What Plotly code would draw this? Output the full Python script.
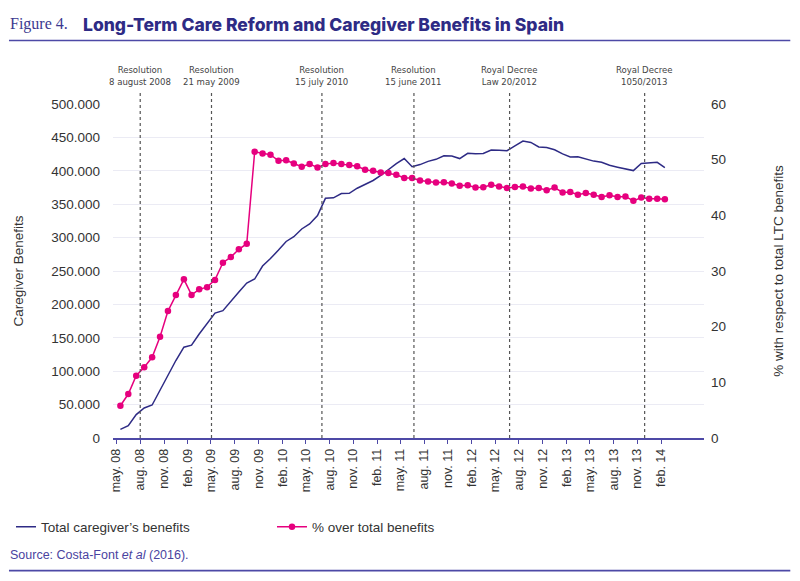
import pandas as pd
import plotly.graph_objects as go

# monthly series, may 2008 - feb 2014
months = pd.date_range("2008-05-01", periods=70, freq="MS")

caregiver_benefits = [
    13000, 18400, 35000, 44900, 49400, 71900, 94300, 116000, 136000, 139000,
    155700, 172000, 187000, 190600, 205000, 218600, 232000, 238000, 257500, 268600,
    281400, 294200, 301300, 312900, 320400, 333100, 358800, 359600, 365900, 366300,
    373900, 379600, 385500, 393000, 402100, 410800, 418400, 406100, 409300, 414100,
    417200, 422600, 422000, 418300, 426200, 425500, 426000, 431100, 430700, 430100,
    437400, 444600, 442500, 435600, 434900, 431400, 425400, 420700, 421100, 417400,
    414500, 412700, 408200, 405400, 402800, 400300, 410900, 411700, 412700, 404900,
]

pct_over_total = [
    5.8, 7.9, 11.2, 12.7, 14.5, 18.2, 22.8, 25.7, 28.5, 25.7,
    26.7, 27.1, 28.4, 31.5, 32.5, 33.9, 34.9, 51.4, 51.1, 50.9,
    49.8, 49.9, 49.3, 48.75, 49.2, 48.6, 49.2, 49.4, 49.2, 49.05,
    48.8, 48.2, 48.0, 47.7, 47.6, 47.3, 46.7, 46.7, 46.25, 46.1,
    45.9, 45.95, 45.7, 45.3, 45.4, 45.0, 45.05, 45.5, 45.2, 44.9,
    45.1, 45.2, 44.8, 44.9, 44.5, 45.0, 44.1, 44.2, 43.7, 44.0,
    43.7, 43.3, 43.6, 43.3, 43.4, 42.6, 43.2, 43.0, 43.0, 42.9,
]

tick_labels = [
    "may. 08", "aug. 08", "nov. 08", "feb. 09", "may. 09", "aug. 09",
    "nov. 09", "feb. 10", "may. 10", "aug. 10", "nov. 10", "feb. 11",
    "may. 11", "aug. 11", "nov. 11", "feb. 12", "may. 12", "aug. 12",
    "nov. 12", "feb. 13", "may. 13", "aug. 13", "nov. 13", "feb. 14",
]

reform_dates = ["2008-08-01", "2009-05-03", "2010-07-03", "2011-06-23", "2012-06-26", "2013-11-29"]
reform_labels = [
    "Resolution<br>8 august 2008",
    "Resolution<br>21 may 2009",
    "Resolution<br>15 july 2010",
    "Resolution<br>15 june 2011",
    "Royal Decree<br>Law 20/2012",
    "Royal Decree<br>1050/2013",
]

NAVY = "#2e2b85"
PINK = "#e6007e"
RULE = "#4d49a6"
TEXT = "#333333"

fig = go.Figure()

fig.add_trace(go.Scatter(
    x=months, y=caregiver_benefits,
    xperiod="M1", xperiodalignment="middle",
    mode="lines", line=dict(color=NAVY, width=1.5),
    name="Total caregiver\u2019s benefits",
))

fig.add_trace(go.Scatter(
    x=months, y=pct_over_total, yaxis="y2",
    xperiod="M1", xperiodalignment="middle",
    mode="lines+markers", line=dict(color=PINK, width=1.5),
    marker=dict(color=PINK, size=6.5),
    name="% over total benefits",
))

# reform dates: dotted lines and labels above the plot
for d, lab in zip(reform_dates, reform_labels):
    fig.add_shape(type="line", xref="x", yref="paper", x0=d, x1=d, y0=0, y1=1.042,
                  line=dict(color="#555555", width=1.2, dash="dot"))
    fig.add_annotation(x=d, xref="x", y=1.046, yref="paper", text=lab,
                       showarrow=False, yanchor="bottom", align="center",
                       font=dict(family="Liberation Sans Narrow, DejaVu Sans Condensed", size=9.5, color="#444444"))

# header and footer rules
for yy in [1.2895, 1.19, -0.397]:
    fig.add_shape(type="line", xref="paper", yref="paper", x0=-0.176, x1=1.146, y0=yy, y1=yy,
                  line=dict(color=RULE, width=1.6))

fig.add_annotation(x=-0.177, y=1.2395, xref="paper", yref="paper", xanchor="left", yanchor="middle",
                   text="Figure 4.", showarrow=False,
                   font=dict(family="Liberation Serif", size=16, color="#3c3990"))
fig.add_annotation(x=-0.054, y=1.2395, xref="paper", yref="paper", xanchor="left", yanchor="middle",
                   text="Long-Term Care Reform and Caregiver Benefits in Spain", showarrow=False,
                   font=dict(family="Inter", size=17.5, weight=800, color=NAVY))
fig.add_annotation(x=-0.177, y=-0.35, xref="paper", yref="paper", xanchor="left", yanchor="middle",
                   text="Source: Costa-Font <i>et al</i> (2016).", showarrow=False,
                   font=dict(family="Liberation Sans", size=12.5, color="#4a43a0"))

# the page adds an 8px body margin, so the figure is 16px smaller than the window
fig.update_layout(
    width=784, height=565,
    margin=dict(l=105, r=88, t=96, b=135),
    paper_bgcolor="white", plot_bgcolor="white",
    font=dict(family="Liberation Sans", color=TEXT, size=13),
    separators=",.",
    showlegend=True,
    legend=dict(orientation="h", xref="container", yref="container",
                x=0.0102, y=0.0814, xanchor="left", yanchor="middle",
                indentation=-15, entrywidth=241, font=dict(size=13.5, color=TEXT)),
    xaxis=dict(
        type="date", range=["2008-04-18", "2014-07-16"], automargin=False,
        tickvals=months[::3], ticktext=tick_labels, tickangle=-90,
        showgrid=False, showline=True, linecolor=RULE, linewidth=1.5,
        ticks="outside", ticklen=4, tickcolor=RULE,
        tickfont=dict(size=12.5, color=TEXT),
    ),
    yaxis=dict(
        range=[0, 500000], dtick=50000, tickformat=",d", automargin=False,
        showgrid=True, gridcolor="#ebebf4", gridwidth=1,
        zeroline=False, showline=False, ticklabelstandoff=12,
        tickfont=dict(size=13.5, color=TEXT),
        title=dict(text="Caregiver Benefits", standoff=24, font=dict(size=13.5, color=TEXT)),
    ),
    yaxis2=dict(
        range=[0, 60], dtick=10, overlaying="y", side="right", automargin=False,
        showgrid=False, zeroline=False, showline=False, ticklabelstandoff=6,
        tickfont=dict(size=13.5, color=TEXT),
        title=dict(text="% with respect to total LTC benefits", standoff=48, font=dict(size=13.5, color=TEXT)),
    ),
)

fig.write_html("out.html")
